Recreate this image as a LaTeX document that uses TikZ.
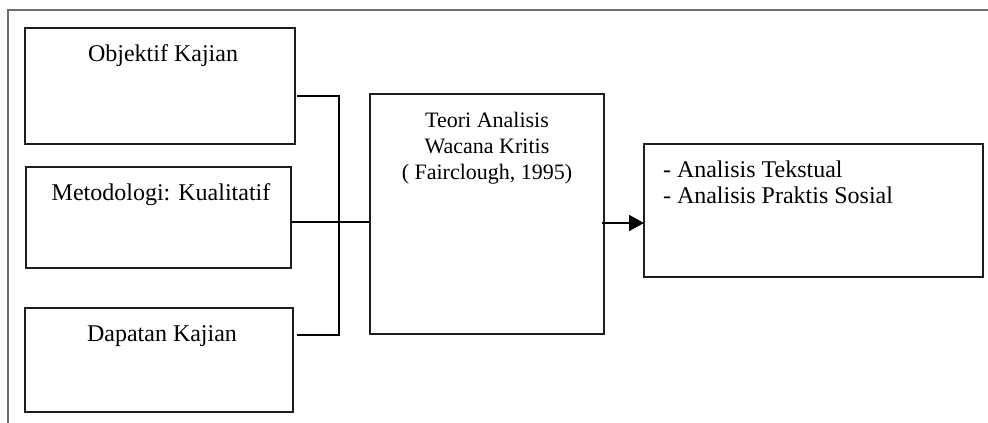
\documentclass[tikz,border=0pt]{standalone}
\usepackage{fontspec}
\setmainfont{Liberation Serif}
\usetikzlibrary{arrows.meta}
\definecolor{framegray}{RGB}{110,110,110}
\definecolor{boxline}{RGB}{30,30,30}
\tikzset{
  box/.style={draw=boxline, line width=1.3pt, inner sep=0pt, outer sep=0pt, anchor=north west, fill=white},
  lbl/.style={inner sep=0pt, outer sep=0pt, anchor=base, font=\fontsize{24}{26}\selectfont},
  conn/.style={draw=black, line width=1.9pt},
  frameline/.style={draw=framegray, line width=1.3pt}
}
\begin{document}
\begin{tikzpicture}[x=1pt, y=-1pt]
\useasboundingbox (0,0) rectangle (988,423);
% outer frame (only top and left edges visible)
\draw[frameline] (8,423) -- (8,10) -- (988,10);
% boxes
\node[box, minimum width=270pt, minimum height=116pt] (obj) at (25,28) {};
\node[box, minimum width=265pt, minimum height=101pt] (met) at (26,167) {};
\node[box, minimum width=268pt, minimum height=104pt] (dap) at (25,308) {};
\node[box, minimum width=234pt, minimum height=240pt] (teori) at (370,94) {};
\node[box, minimum width=339pt, minimum height=133pt] (res) at (644,144) {};
% texts
\node[lbl] (tobj) at (163,61) {Objektif Kajian};
\node[lbl] (tmet) at (161,200) {Metodologi: Kualitatif};
\node[lbl] (tdap) at (162,341) {Dapatan Kajian};
\node[lbl, align=center, font=\fontsize{22}{26}\selectfont] (tteori) at (487,179.3)
  {Teori Analisis\\Wacana Kritis\\( Fairclough, 1995)};
\node[lbl, anchor=base west, align=left] (tres) at (663,203)
  {- Analisis Tekstual\\- Analisis Praktis Sosial};
% connectors
\coordinate (bus) at (339,0);
\coordinate (objout) at ([shift={(2pt,-10pt)}]obj.east);
\coordinate (dapout) at ([shift={(4pt,25pt)}]dap.east);
\coordinate (metout) at ([yshift=-4.5pt]met.east);
\coordinate (aout) at ([shift={(-2pt,-9pt)}]teori.east);
\draw[conn] (objout) -- (objout -| bus) -- (dapout -| bus) -- (dapout);
\draw[conn] (metout) -- (metout -| teori.west);
\draw[conn, -{Triangle[length=15pt, width=16pt]}] (aout) -- (aout -| res.west);
\end{tikzpicture}
\end{document}
